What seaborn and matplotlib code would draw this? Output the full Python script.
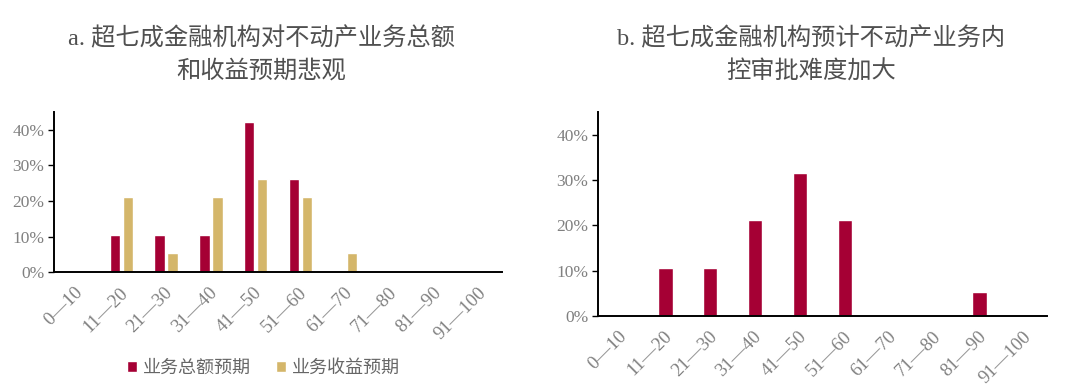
import pandas as pd
import matplotlib
matplotlib.use("Agg")
import matplotlib.pyplot as plt
import matplotlib.transforms as mtransforms
import seaborn as sns
from matplotlib.ticker import PercentFormatter

# data (share of institutions, n = 19)
categories = ['0—10', '11—20', '21—30', '31—40', '41—50',
              '51—60', '61—70', '71—80', '81—90', '91—100']
total_expect = [0, 10.5, 10.5, 10.5, 42.1, 26.3, 0, 0, 0, 0]
income_expect = [0, 21.1, 5.3, 21.1, 26.3, 21.1, 5.3, 0, 0, 0]
review_harder = [0, 10.5, 10.5, 21.1, 31.6, 21.1, 0, 0, 5.3, 0]
series_names = ['业务总额预期', '业务收益预期']
title_a = 'a. 超七成金融机构对不动产业务总额\n和收益预期悲观'
title_b = 'b. 超七成金融机构预计不动产业务内\n控审批难度加大'

RED = '#A50034'
GOLD = '#D4B66A'

sns.set_style('white')
plt.rcParams['font.family'] = ['Liberation Serif', 'Noto Sans CJK SC', 'DejaVu Sans']

df_a = pd.DataFrame({
    'range': categories * 2,
    'value': total_expect + income_expect,
    'series': [series_names[0]] * len(categories) + [series_names[1]] * len(categories),
})
df_b = pd.DataFrame({'range': categories, 'value': review_harder})

fig = plt.figure(figsize=(10.8, 3.92), dpi=100)
ax1 = fig.add_axes([0.05, 0.306, 0.415, 0.408])
ax2 = fig.add_axes([0.5537, 0.194, 0.4157, 0.520])

sns.barplot(data=df_a, x='range', y='value', hue='series', order=categories,
            palette=[RED, GOLD], saturation=1, width=0.58, gap=0.2,
            ax=ax1, legend=True)
sns.barplot(data=df_b, x='range', y='value', order=categories,
            color=RED, saturation=1, width=0.32, ax=ax2)

shift = mtransforms.ScaledTranslation(4 / 100, 0, fig.dpi_scale_trans)
for ax in (ax1, ax2):
    ax.set_xlim(-0.5, 9.5)
    ax.set_ylim(0, 45)
    ax.set_yticks([0, 10, 20, 30, 40])
    ax.yaxis.set_major_formatter(PercentFormatter(decimals=0))
    ax.set_xlabel('')
    ax.set_ylabel('')
    for s in ('top', 'right'):
        ax.spines[s].set_visible(False)
    for s in ('left', 'bottom'):
        ax.spines[s].set_color('black')
        ax.spines[s].set_linewidth(1.4)
    ax.tick_params(axis='y', direction='out', length=4, width=1, color='black',
                   labelsize=12.5, labelcolor='#808080', pad=3, left=True)
    ax.tick_params(axis='x', length=0, labelsize=13.5, labelcolor='#808080', pad=13)
    for lbl in ax.get_xticklabels():
        lbl.set_rotation(45)
        lbl.set_ha('right')
        lbl.set_va('center')
        lbl.set_rotation_mode('anchor')
        lbl.set_transform(lbl.get_transform() + shift)

ax1.legend_.remove()
handles, labels = ax1.get_legend_handles_labels()
fig.legend(handles, labels, loc='center', bbox_to_anchor=(0.244, 0.062),
           ncol=2, frameon=False, handlelength=0.55, handleheight=0.55,
           handletextpad=0.35, columnspacing=1.4,
           prop={'family': ['Noto Sans CJK SC'], 'size': 13},
           labelcolor='#666666')

fig.text(0.242, 0.86, title_a, ha='center', va='center', fontsize=17.5,
         color='#505050', linespacing=1.55,
         family=['Liberation Serif', 'Noto Sans CJK SC'])
fig.text(0.751, 0.86, title_b, ha='center', va='center', fontsize=17.5,
         color='#505050', linespacing=1.55,
         family=['Liberation Serif', 'Noto Sans CJK SC'])

fig.savefig('out.png', dpi=100)
